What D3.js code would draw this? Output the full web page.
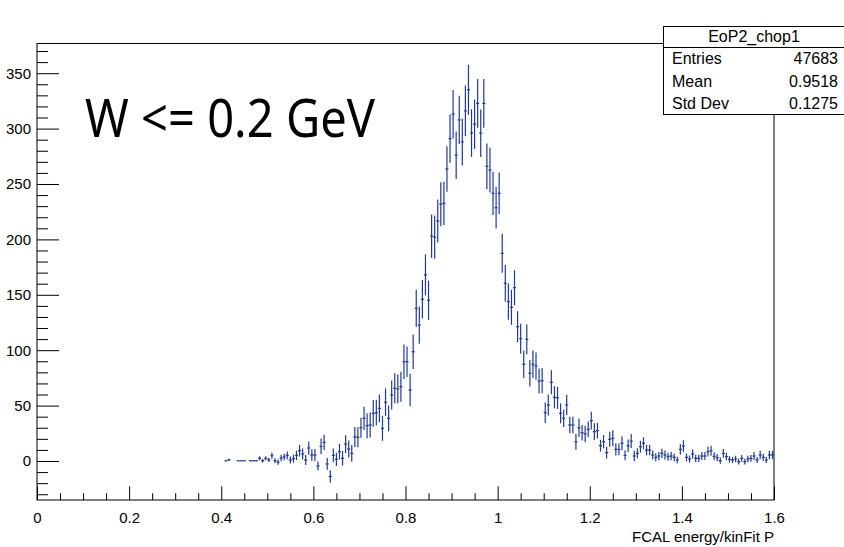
<!DOCTYPE html>
<html><head><meta charset="utf-8">
<script src="https://cdn.jsdelivr.net/npm/d3@7"></script>
<style>body{margin:0;background:#fff}svg{display:block}</style>
</head><body>
<svg id="c" width="844" height="547"></svg>
<script>
// ---- data ----
const histName = "EoP2_chop1";
const xTitle = "FCAL energy/kinFit P";
const cutLabel = "W <= 0.2 GeV";
const xDomain = [0, 1.6];
const yDomain = [-35.2, 376.8];
const nBins = 240;
const firstBin = 61;
const counts = [
 0.2,1.0,null,null,0.2,0.2,0.2,null,0.2,0.2,0.2,
 2.4,0.3,2.4,1.0,4.8,0.3,-1.0,2.7,3.6,5.1,0.9,2.1,5.1,9.3,6.3,0.9,11.7,5.4,5.4,-4.5,
 13.2,16.8,-2.7,-14.0,5.1,1.5,8.4,2.4,15.3,10.8,6.9,21.7,21.4,30.0,38.5,31.9,32.5,
 43.0,43.6,47.5,29.5,53.0,38.5,59.6,65.6,65.0,67.0,89.6,89.6,64.0,98.6,137.8,122.7,
 146.0,168.0,145.0,203.0,202.0,216.6,231.7,232.6,263.5,291.0,313.0,276.0,307.8,288.0,
 316.0,335.0,296.0,304.0,322.8,295.8,322.8,266.0,262.6,241.6,228.6,241.6,187.4,160.4,
 143.8,138.7,156.4,121.2,110.4,87.3,109.8,79.2,87.3,85.7,72.2,72.5,43.6,50.5,71.0,
 57.5,57.0,43.0,38.5,50.5,32.5,32.5,17.4,30.0,25.6,24.4,28.6,36.4,26.5,27.4,13.8,17.4,
 7.5,19.6,20.5,10.5,10.5,16.0,5.1,13.8,18.0,4.5,6.9,12.9,16.0,9.9,9.9,5.4,3.3,4.5,6.9,
 5.4,3.9,4.5,3.3,0.9,10.5,13.5,3.3,1.8,6.3,2.4,2.4,4.5,4.5,8.4,9.3,4.2,3.0,0.3,6.9,3.9,
 1.5,0.9,1.8,-0.6,2.4,-0.6,1.8,2.4,4.5,0.9,5.4,3.3,0.9,5.4,5.4
];
const errors = [
 0.4,1.0,null,null,0.3,0.3,0.3,null,0.3,0.3,0.3,
 1.8,1.6,1.8,2.0,2.7,2.2,2.4,3.0,3.0,3.5,3.2,3.6,4.2,5.3,5.0,4.5,6.0,5.2,5.5,4.0,
 7.0,6.8,5.3,5.6,6.2,6.0,7.0,6.5,8.0,7.6,7.5,9.0,9.0,9.0,10.5,11.3,11.3,
 12.0,11.6,12.5,11.3,12.5,11.7,13.1,13.5,13.1,13.5,15.5,13.8,14.7,15.5,16.8,16.8,
 17.3,18.5,17.7,19.5,19.5,19.5,19.8,19.5,20.6,21.8,21.8,21.4,21.8,21.2,
 23.0,22.6,21.5,22.3,22.0,21.4,22.0,20.5,20.3,19.5,18.8,18.7,17.6,16.5,
 16.3,15.8,15.8,14.0,13.5,12.5,13.5,12.0,12.5,12.3,11.3,11.4,9.3,9.5,10.8,
 10.0,10.0,9.0,7.8,9.0,7.5,7.5,7.2,8.3,7.0,7.5,7.0,8.0,7.5,7.0,5.3,6.0,
 5.3,6.8,7.2,5.6,5.3,6.3,4.5,5.6,6.3,4.7,4.5,5.3,5.4,4.8,4.8,4.0,3.6,3.8,4.2,
 4.0,3.6,3.8,3.5,3.0,4.8,5.2,3.5,3.2,4.0,3.2,3.2,3.6,3.6,4.4,4.5,3.6,3.3,2.8,4.0,3.4,
 3.0,2.8,3.0,2.6,3.1,2.6,3.0,3.1,3.6,2.8,3.8,3.2,2.8,3.8,3.8
];
const statsLabels = ["Entries", "Mean", "Std Dev"];
const statsValues = ["47683", "0.9518", "0.1275"];
const xTickValues = [0, 0.2, 0.4, 0.6, 0.8, 1.0, 1.2, 1.4, 1.6];
const xTickLabels = ["0", "0.2", "0.4", "0.6", "0.8", "1", "1.2", "1.4", "1.6"];
const yTickValues = [0, 50, 100, 150, 200, 250, 300, 350];

// ---- layout ----
const F = {l: 37, r: 774, t: 43.5, b: 500};
const font = "'Liberation Sans', Arial, Helvetica, sans-serif";
const svg = d3.select("#c");
svg.append("rect").attr("width", 844).attr("height", 547).attr("fill", "#fff");

const x = d3.scaleLinear().domain(xDomain).range([F.l, F.r]);
const y = d3.scaleLinear().domain(yDomain).range([F.b, F.t]);
const binW = (xDomain[1] - xDomain[0]) / nBins;

// frame
svg.append("rect").attr("x", F.l).attr("y", F.t).attr("width", F.r - F.l).attr("height", F.b - F.t)
  .attr("fill", "none").attr("stroke", "#000").attr("stroke-width", 1);

// minor ticks
const xMinor = d3.range(0, 32 + 1).map(i => i * 0.05).filter(v => Math.abs(v / 0.2 - Math.round(v / 0.2)) > 1e-6);
const yMinor = d3.range(-30, 371, 10).filter(v => v % 50 !== 0);

const gxm = svg.append("g").attr("transform", `translate(0,${F.b})`)
  .call(d3.axisBottom(x).tickValues(xMinor).tickSizeInner(-6.8).tickSizeOuter(0).tickFormat(""));
const gx = svg.append("g").attr("transform", `translate(0,${F.b})`)
  .call(d3.axisBottom(x).tickValues(xTickValues).tickSizeInner(-13.7).tickSizeOuter(0)
    .tickPadding(12).tickFormat((d, i) => xTickLabels[i]));
const gym = svg.append("g").attr("transform", `translate(${F.l},0)`)
  .call(d3.axisLeft(y).tickValues(yMinor).tickSizeInner(-11).tickSizeOuter(0).tickFormat(""));
const gy = svg.append("g").attr("transform", `translate(${F.l},0)`)
  .call(d3.axisLeft(y).tickValues(yTickValues).tickSizeInner(-22).tickSizeOuter(0)
    .tickPadding(6).tickFormat(d3.format("d")));
[gxm, gx, gym, gy].forEach(g => {
  g.select(".domain").remove();
  g.selectAll("line").attr("stroke", "#000").attr("stroke-width", 1);
  g.selectAll("text").attr("font-family", font).attr("font-size", 15).attr("fill", "#000");
});

// x title
svg.append("text").attr("x", F.r).attr("y", 542).attr("text-anchor", "end")
  .attr("font-family", font).attr("font-size", 15).text(xTitle);

// histogram with error bars
const bins = counts.map((v, k) => ({i: firstBin + k, v, e: errors[k]})).filter(d => d.v !== null);
const col = "#203a99";
const gd = svg.append("g");
gd.selectAll("line.v").data(bins).join("line").attr("class", "v")
  .attr("x1", d => x((d.i + 0.5) * binW)).attr("x2", d => x((d.i + 0.5) * binW))
  .attr("y1", d => y(d.v - d.e)).attr("y2", d => y(d.v + d.e))
  .attr("stroke", col).attr("stroke-width", 1.2);
gd.selectAll("line.h").data(bins).join("line").attr("class", "h")
  .attr("x1", d => x(d.i * binW)).attr("x2", d => x((d.i + 1) * binW))
  .attr("y1", d => y(d.v)).attr("y2", d => y(d.v))
  .attr("stroke", col).attr("stroke-width", 1.2);

// big label
svg.append("text").attr("x", 85).attr("y", 137)
  .attr("font-family", "'Noto Sans', 'DejaVu Sans', sans-serif").attr("font-size", 52)
  .attr("textLength", 290).attr("lengthAdjust", "spacingAndGlyphs").text(cutLabel);

// stats box
const sb = {x: 663.5, y: 26.5, w: 200, h: 88};
const gs = svg.append("g");
gs.append("rect").attr("x", sb.x).attr("y", sb.y).attr("width", sb.w).attr("height", sb.h)
  .attr("fill", "#fff").attr("stroke", "#000").attr("stroke-width", 1);
gs.append("line").attr("x1", sb.x).attr("x2", sb.x + sb.w).attr("y1", 47.5).attr("y2", 47.5)
  .attr("stroke", "#000");
gs.append("text").attr("x", 754).attr("y", 42).attr("text-anchor", "middle")
  .attr("font-family", font).attr("font-size", 16).text(histName);
const rowY = [64, 86.5, 108.5];
statsLabels.forEach((s, k) => {
  gs.append("text").attr("x", 672).attr("y", rowY[k]).attr("font-family", font).attr("font-size", 16).text(s);
  gs.append("text").attr("x", 838).attr("y", rowY[k]).attr("text-anchor", "end")
    .attr("font-family", font).attr("font-size", 16).text(statsValues[k]);
});
</script>
</body></html>
